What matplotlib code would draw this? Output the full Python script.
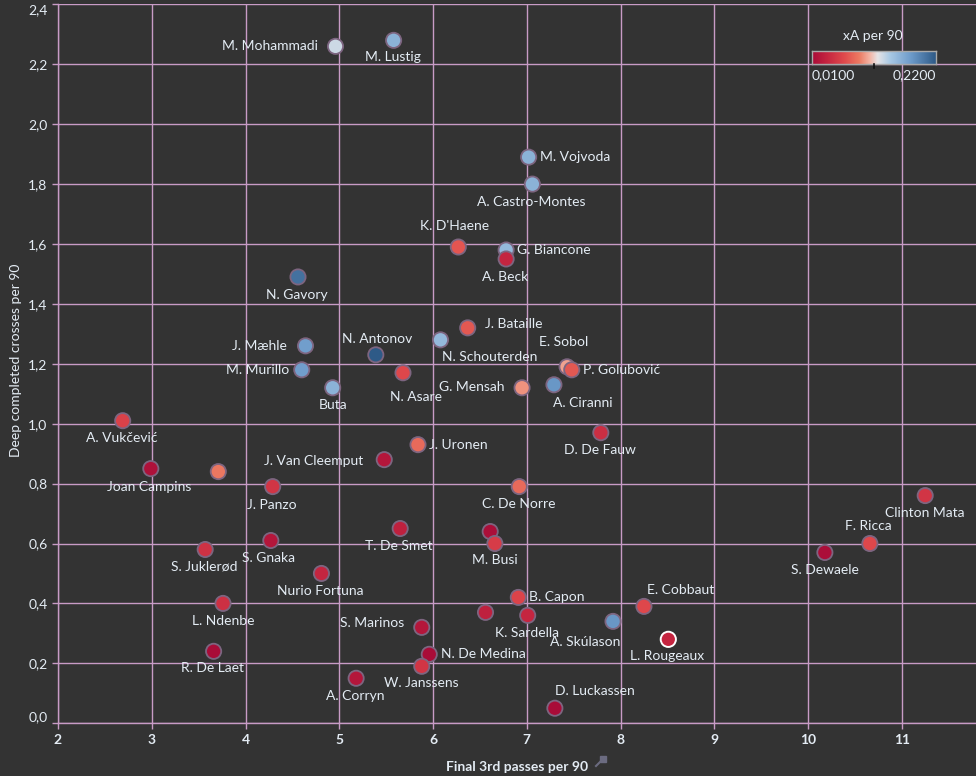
import matplotlib
matplotlib.use("Agg")
import matplotlib.pyplot as plt
import numpy as np
from matplotlib.colors import LinearSegmentedColormap, Normalize
from matplotlib.ticker import FuncFormatter
from matplotlib.lines import Line2D

# ---------------- data ----------------
players = ["M. Mohammadi", "M. Lustig", "M. Vojvoda", "A. Castro-Montes", "K. D'Haene",
           "G. Biancone", "A. Beck", "N. Gavory", "J. Bataille", "N. Schouterden",
           "J. Mæhle", "N. Antonov", "M. Murillo", "Buta", "N. Asare",
           "E. Sobol", "P. Golubović", "G. Mensah", "A. Ciranni", "A. Vukčević",
           "D. De Fauw", "J. Uronen", "J. Van Cleemput", "Joan Campins", "",
           "J. Panzo", "C. De Norre", "Clinton Mata", "F. Ricca", "S. Dewaele",
           "T. De Smet", "", "M. Busi", "S. Juklerød", "S. Gnaka",
           "Nurio Fortuna", "L. Ndenbe", "R. De Laet", "A. Corryn", "S. Marinos",
           "B. Capon", "", "K. Sardella", "A. Skúlason", "E. Cobbaut",
           "L. Rougeaux", "N. De Medina", "W. Janssens", "D. Luckassen"]
final3rd_passes = [4.96, 5.58, 7.02, 7.06, 6.27,
                   6.78, 6.78, 4.56, 6.37, 6.08,
                   4.64, 5.39, 4.60, 4.93, 5.68,
                   7.43, 7.48, 6.95, 7.29, 2.69,
                   7.79, 5.84, 5.48, 2.99, 3.71,
                   4.29, 6.92, 11.25, 10.66, 10.18,
                   5.65, 6.61, 6.66, 3.57, 4.27,
                   4.81, 3.76, 3.66, 5.18, 5.88,
                   6.91, 6.56, 7.01, 7.92, 8.25,
                   8.51, 5.96, 5.88, 7.30]
deep_crosses = [2.26, 2.28, 1.89, 1.80, 1.59,
                1.58, 1.55, 1.49, 1.32, 1.28,
                1.26, 1.23, 1.18, 1.12, 1.17,
                1.19, 1.18, 1.12, 1.13, 1.01,
                0.97, 0.93, 0.88, 0.85, 0.84,
                0.79, 0.79, 0.76, 0.60, 0.57,
                0.65, 0.64, 0.60, 0.58, 0.61,
                0.50, 0.40, 0.24, 0.15, 0.32,
                0.42, 0.37, 0.36, 0.34, 0.39,
                0.28, 0.23, 0.19, 0.05]
xa_per90 = [0.130, 0.160, 0.160, 0.160, 0.070,
            0.155, 0.035, 0.205, 0.072, 0.155,
            0.175, 0.220, 0.175, 0.160, 0.062,
            0.102, 0.072, 0.097, 0.180, 0.058,
            0.042, 0.082, 0.020, 0.015, 0.088,
            0.048, 0.082, 0.048, 0.062, 0.012,
            0.030, 0.012, 0.054, 0.046, 0.020,
            0.035, 0.044, 0.010, 0.020, 0.020,
            0.060, 0.030, 0.036, 0.180, 0.062,
            0.036, 0.010, 0.048, 0.010]
highlighted = "L. Rougeaux"
x_ticks = [2, 3, 4, 5, 6, 7, 8, 9, 10, 11]
y_ticks = [0.0, 0.2, 0.4, 0.6, 0.8, 1.0, 1.2, 1.4, 1.6, 1.8, 2.0, 2.2, 2.4]
xa_min, xa_max = 0.01, 0.22

# ---------------- label layout (pixel offsets: dx, dy-down, ha) ----------------
label_pos = {
    "M. Mohammadi": (-18, 0, "right"), "M. Lustig": (-1, 17, "center"),
    "M. Vojvoda": (11, 0, "left"), "A. Castro-Montes": (-1, 18, "center"),
    "K. D'Haene": (-4, -21, "center"), "G. Biancone": (11, 0, "left"),
    "A. Beck": (-1, 18, "center"), "N. Gavory": (-1, 18, "center"),
    "J. Bataille": (17, -4, "left"), "N. Schouterden": (1, 17, "left"),
    "J. Mæhle": (-19, 0, "right"), "N. Antonov": (1, -16, "center"),
    "M. Murillo": (-12, 0, "right"), "Buta": (0, 17, "center"),
    "N. Asare": (13, 24, "center"), "E. Sobol": (-3, -25, "center"),
    "P. Golubović": (11, 0, "left"), "G. Mensah": (-18, -1, "right"),
    "A. Ciranni": (29, 18, "center"), "A. Vukčević": (-1, 17, "center"),
    "D. De Fauw": (-1, 17, "center"), "J. Uronen": (11, 0, "left"),
    "J. Van Cleemput": (-21, 1, "right"), "Joan Campins": (-2, 18, "center"),
    "J. Panzo": (-1, 18, "center"), "C. De Norre": (-1, 17, "center"),
    "Clinton Mata": (0, 17, "center"), "F. Ricca": (-2, -18, "center"),
    "S. Dewaele": (0, 18, "center"), "T. De Smet": (-1, 17, "center"),
    "M. Busi": (0, 17, "center"), "S. Juklerød": (-1, 17, "center"),
    "S. Gnaka": (-2, 17, "center"), "Nurio Fortuna": (-1, 18, "center"),
    "L. Ndenbe": (0, 18, "center"), "R. De Laet": (-1, 17, "center"),
    "A. Corryn": (-1, 18, "center"), "S. Marinos": (-18, -4, "right"),
    "B. Capon": (11, 0, "left"), "K. Sardella": (-1, 18, "center"),
    "A. Skúlason": (-28, 21, "center"), "E. Cobbaut": (37, -16, "center"),
    "L. Rougeaux": (-1, 17, "center"), "N. De Medina": (12, 0, "left"),
    "W. Janssens": (0, 17, "center"), "D. Luckassen": (40, -17, "center"),
}

BG = "#333333"
GRID = "#c89bc6"
TXT = "#e4ecf4"
FONT = "Lato"

cmap = LinearSegmentedColormap.from_list(
    "rb_div",
    [(0.0, "#a90c38"), (0.12, "#c52540"), (0.26, "#e04a4c"), (0.38, "#ec7a62"),
     (0.47, "#f4b7a8"), (0.53, "#e6e4e6"), (0.63, "#a9c9e4"), (0.8, "#6d9bca"),
     (1.0, "#2e5a87")])
norm = Normalize(vmin=xa_min, vmax=xa_max)

W, H = 976, 776
fig = plt.figure(figsize=(W / 100, H / 100), dpi=100, facecolor=BG)
ax = fig.add_axes([58 / W, (H - 723.2) / H, (W - 58) / W, 718.8 / H])
ax.set_facecolor(BG)
ax.set_xlim(2, 2 + (W - 58) / 93.75)
ax.set_ylim(0, 2.4)

ax.set_xticks(x_ticks)
ax.set_yticks(y_ticks)
ax.grid(True, color=GRID, lw=1.0, zorder=0)
ax.set_axisbelow(True)
for s in ["top", "right"]:
    ax.spines[s].set_visible(False)
for s in ["left", "bottom"]:
    ax.spines[s].set_color(GRID)
    ax.spines[s].set_linewidth(1.0)
ax.tick_params(colors=GRID, length=4, width=1, labelcolor=TXT, labelsize=10)
ax.yaxis.set_major_formatter(FuncFormatter(lambda v, p: f"{v:.1f}".replace(".", ",")))
ax.xaxis.set_major_formatter(FuncFormatter(lambda v, p: f"{int(v)}"))
for lab in ax.get_xticklabels() + ax.get_yticklabels():
    lab.set_fontfamily(FONT)
for lab in ax.get_xticklabels():
    lab.set_fontweight("bold")
ylabs = ax.get_yticklabels()
ylabs[0].set_verticalalignment("bottom")
ylabs[-1].set_verticalalignment("top")

edges = ["white" if p == highlighted else "#7d6580" for p in players]
lws = [1.4 if p == highlighted else 1.3 for p in players]
ax.scatter(final3rd_passes, deep_crosses, c=xa_per90, cmap=cmap, norm=norm,
           s=120, edgecolors=edges, linewidths=lws, zorder=3)

for name, xv, yv in zip(players, final3rd_passes, deep_crosses):
    if not name:
        continue
    dx, dy, ha = label_pos.get(name, (0, 17, "center"))
    ax.annotate(name, (xv, yv), xytext=(dx * 0.72, -dy * 0.72), textcoords="offset points",
                ha=ha, va="center", color=TXT, fontsize=10, fontfamily=FONT, zorder=4)

ax.set_xlabel("Final 3rd passes per 90", color=TXT, fontsize=10, fontfamily=FONT,
              fontweight="bold", labelpad=10)
ax.xaxis.set_label_coords((517 - 58) / (W - 58), -(761 - 723.2) / 718.8)
ax.set_ylabel("Deep completed crosses per 90", color=TXT, fontsize=10, fontfamily=FONT)
ax.yaxis.set_label_coords(-(58 - 16) / (W - 58), (723.2 - 360) / 718.8)
ax.yaxis.label.set_verticalalignment("center")

# pin icon next to axis title
fig.add_artist(Line2D([596 / W, 601 / W], [(H - 766) / H, (H - 761) / H], color="#6b6b80", lw=1.5))
fig.add_artist(Line2D([603 / W], [(H - 759) / H], marker=(4, 0, 45), color="#6b6b80",
                      markersize=7, lw=0))

# colour legend
cax = fig.add_axes([812 / W, (H - 64) / H, 124 / W, 13 / H])
grad = np.linspace(0, 1, 256).reshape(1, -1)
cax.imshow(grad, aspect="auto", cmap=cmap, extent=[0, 1, 0, 1])
cax.set_xticks([])
cax.set_yticks([])
for s in cax.spines.values():
    s.set_color("#a9a9a9")
    s.set_linewidth(1.0)
fig.add_artist(Line2D([874 / W, 874 / W], [(H - 64) / H, (H - 68) / H], color="#111111", lw=1.2))
fig.text(873 / W, (H - 36) / H, "xA per 90", color=TXT, fontsize=10, fontfamily=FONT,
         ha="center", va="center")
fig.text(812 / W, (H - 75) / H, f"{xa_min:.4f}".replace(".", ","), color=TXT, fontsize=10,
         fontfamily=FONT, ha="left", va="center")
fig.text(936 / W, (H - 75) / H, f"{xa_max:.4f}".replace(".", ","), color=TXT, fontsize=10,
         fontfamily=FONT, ha="right", va="center")

fig.savefig("out.png", dpi=100, facecolor=BG)
